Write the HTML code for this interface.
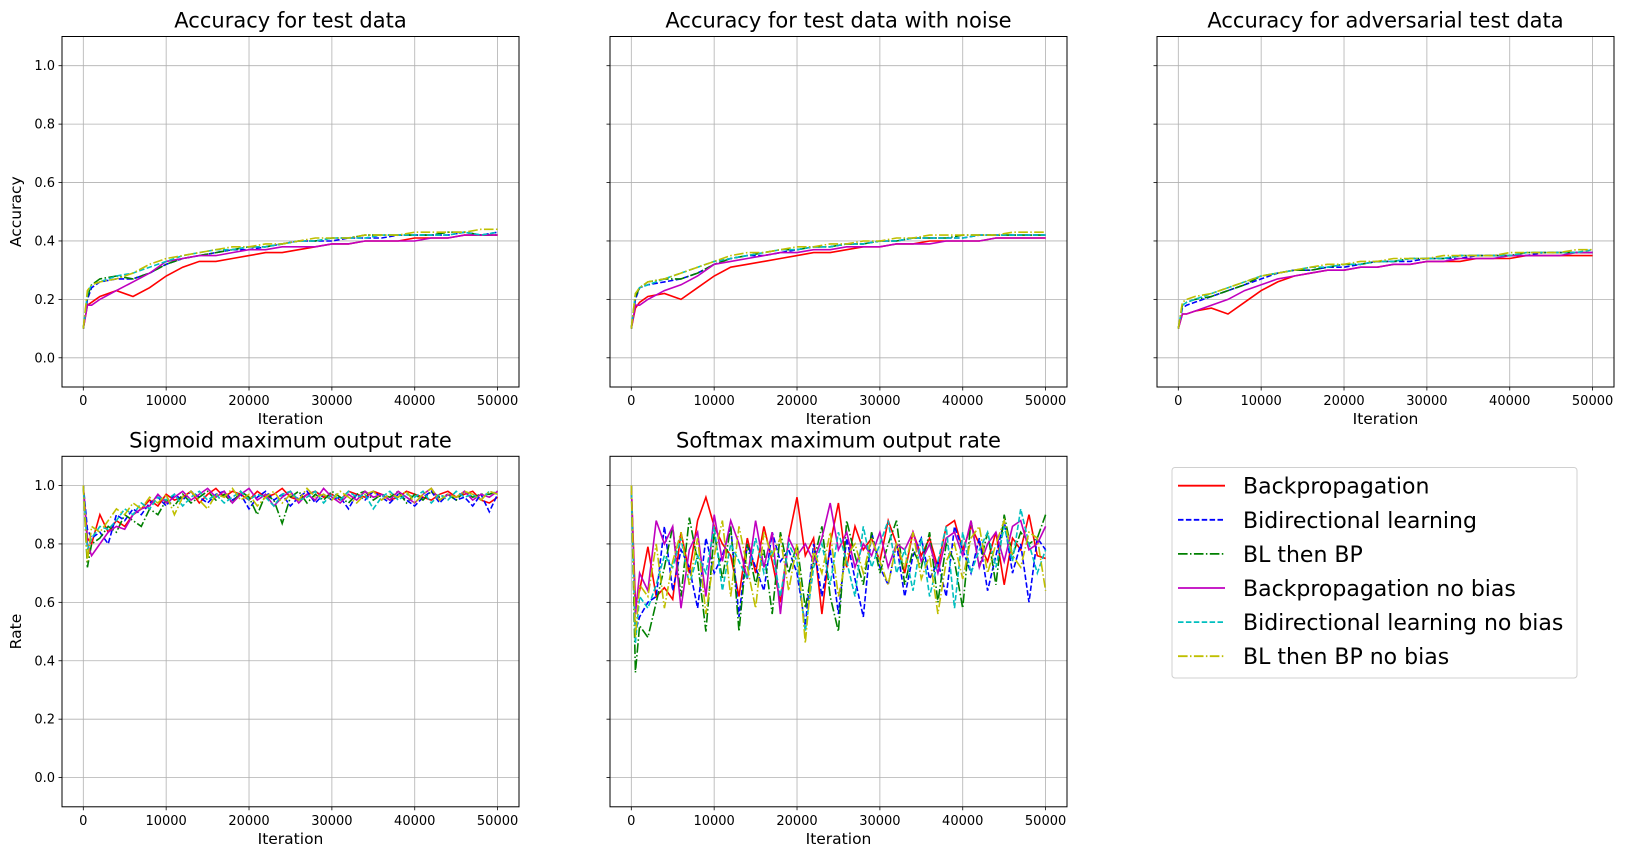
<!DOCTYPE html>
<html><head><meta charset="utf-8"><style>
body{margin:0;background:#fff;}
svg text{font-family:"DejaVu Sans","Liberation Sans",sans-serif;fill:#000;}
</style></head><body>
<svg id="chart" width="1625" height="860" xmlns="http://www.w3.org/2000/svg"></svg>
<script>
const xsTop=[0,500,1000,2000,4000,6000,8000,10000,12000,14000,16000,18000,20000,22000,24000,26000,28000,30000,32000,34000,36000,38000,40000,42000,44000,46000,48000,50000];
const seriesNames=["Backpropagation","Bidirectional learning","BL then BP","Backpropagation no bias","Bidirectional learning no bias","BL then BP no bias"];
const acc1=[
[0.10,0.18,0.19,0.21,0.23,0.21,0.24,0.28,0.31,0.33,0.33,0.34,0.35,0.36,0.36,0.37,0.38,0.39,0.39,0.40,0.40,0.40,0.41,0.41,0.41,0.42,0.42,0.42],
[0.10,0.20,0.24,0.26,0.27,0.27,0.29,0.32,0.34,0.35,0.36,0.37,0.37,0.38,0.39,0.40,0.40,0.40,0.41,0.41,0.41,0.42,0.42,0.42,0.42,0.43,0.42,0.43],
[0.10,0.21,0.25,0.27,0.28,0.27,0.29,0.32,0.34,0.35,0.36,0.37,0.38,0.38,0.39,0.40,0.40,0.41,0.41,0.42,0.42,0.42,0.42,0.42,0.43,0.43,0.42,0.42],
[0.10,0.18,0.18,0.20,0.23,0.26,0.29,0.33,0.34,0.35,0.35,0.36,0.37,0.37,0.38,0.38,0.38,0.39,0.39,0.40,0.40,0.40,0.40,0.41,0.41,0.42,0.42,0.42],
[0.10,0.22,0.25,0.26,0.28,0.29,0.31,0.33,0.35,0.36,0.37,0.37,0.38,0.38,0.39,0.40,0.40,0.41,0.41,0.41,0.42,0.42,0.42,0.42,0.42,0.43,0.42,0.43],
[0.10,0.23,0.25,0.26,0.27,0.29,0.32,0.34,0.35,0.36,0.37,0.38,0.38,0.39,0.39,0.40,0.41,0.41,0.41,0.42,0.42,0.42,0.43,0.43,0.43,0.43,0.44,0.44]];
const acc2=[
[0.10,0.17,0.19,0.21,0.22,0.20,0.24,0.28,0.31,0.32,0.33,0.34,0.35,0.36,0.36,0.37,0.38,0.38,0.39,0.39,0.40,0.40,0.40,0.40,0.41,0.41,0.41,0.41],
[0.10,0.20,0.24,0.25,0.26,0.27,0.29,0.32,0.34,0.35,0.35,0.36,0.37,0.38,0.38,0.39,0.39,0.40,0.40,0.41,0.41,0.41,0.41,0.42,0.42,0.42,0.42,0.42],
[0.10,0.21,0.24,0.26,0.27,0.27,0.29,0.32,0.34,0.35,0.36,0.37,0.37,0.38,0.38,0.39,0.39,0.40,0.40,0.41,0.41,0.41,0.42,0.42,0.42,0.42,0.42,0.42],
[0.10,0.18,0.18,0.20,0.23,0.25,0.28,0.32,0.33,0.34,0.35,0.36,0.36,0.37,0.37,0.38,0.38,0.38,0.39,0.39,0.39,0.40,0.40,0.40,0.41,0.41,0.41,0.41],
[0.10,0.22,0.24,0.25,0.27,0.29,0.31,0.33,0.34,0.35,0.36,0.37,0.37,0.38,0.38,0.39,0.39,0.40,0.40,0.41,0.41,0.41,0.41,0.42,0.42,0.42,0.42,0.42],
[0.10,0.22,0.24,0.26,0.27,0.29,0.31,0.33,0.35,0.36,0.36,0.37,0.38,0.38,0.39,0.39,0.40,0.40,0.41,0.41,0.42,0.42,0.42,0.42,0.42,0.43,0.43,0.43]];
const acc3=[
[0.10,0.15,0.15,0.16,0.17,0.15,0.19,0.23,0.26,0.28,0.29,0.30,0.30,0.31,0.31,0.32,0.32,0.33,0.33,0.33,0.34,0.34,0.34,0.35,0.35,0.35,0.35,0.35],
[0.10,0.17,0.18,0.19,0.21,0.23,0.25,0.27,0.29,0.30,0.30,0.31,0.31,0.32,0.33,0.33,0.33,0.34,0.34,0.34,0.35,0.35,0.35,0.35,0.36,0.36,0.36,0.36],
[0.10,0.18,0.19,0.20,0.21,0.23,0.25,0.28,0.29,0.30,0.30,0.31,0.32,0.32,0.33,0.33,0.34,0.34,0.34,0.35,0.35,0.35,0.35,0.36,0.36,0.36,0.36,0.36],
[0.10,0.15,0.15,0.16,0.18,0.20,0.23,0.25,0.27,0.28,0.29,0.30,0.30,0.31,0.31,0.32,0.32,0.33,0.33,0.34,0.34,0.34,0.35,0.35,0.35,0.35,0.36,0.36],
[0.10,0.18,0.19,0.20,0.22,0.24,0.26,0.28,0.29,0.30,0.31,0.31,0.32,0.32,0.33,0.33,0.34,0.34,0.34,0.35,0.35,0.35,0.35,0.36,0.36,0.36,0.36,0.37],
[0.10,0.19,0.20,0.21,0.22,0.24,0.26,0.28,0.29,0.30,0.31,0.32,0.32,0.33,0.33,0.34,0.34,0.34,0.35,0.35,0.35,0.35,0.36,0.36,0.36,0.36,0.37,0.37]];
const xsBot=[0,500,1000,2000,3000,4000,5000,6000,7000,8000,9000,10000,11000,12000,13000,14000,15000,16000,17000,18000,19000,20000,21000,22000,23000,24000,25000,26000,27000,28000,29000,30000,31000,32000,33000,34000,35000,36000,37000,38000,39000,40000,41000,42000,43000,44000,45000,46000,47000,48000,49000,50000];
const sig=[
[1.00,0.82,0.80,0.90,0.84,0.88,0.86,0.90,0.92,0.95,0.93,0.97,0.95,0.96,0.98,0.94,0.97,0.99,0.96,0.98,0.97,0.95,0.98,0.96,0.97,0.99,0.96,0.95,0.97,0.98,0.96,0.97,0.95,0.98,0.97,0.96,0.98,0.97,0.95,0.96,0.98,0.97,0.96,0.95,0.97,0.98,0.96,0.97,0.98,0.95,0.94,0.96],
[1.00,0.85,0.82,0.84,0.80,0.90,0.88,0.92,0.90,0.94,0.96,0.93,0.97,0.95,0.98,0.96,0.94,0.97,0.98,0.95,0.97,0.92,0.96,0.98,0.95,0.97,0.93,0.96,0.98,0.94,0.97,0.95,0.96,0.92,0.97,0.95,0.98,0.96,0.94,0.97,0.95,0.93,0.96,0.98,0.94,0.97,0.95,0.96,0.93,0.97,0.91,0.97],
[1.00,0.72,0.80,0.82,0.86,0.84,0.90,0.88,0.86,0.92,0.90,0.95,0.93,0.97,0.94,0.96,0.98,0.95,0.97,0.94,0.98,0.96,0.90,0.97,0.95,0.87,0.96,0.98,0.94,0.97,0.95,0.98,0.96,0.94,0.97,0.98,0.95,0.97,0.96,0.98,0.94,0.97,0.95,0.98,0.96,0.97,0.95,0.98,0.96,0.97,0.97,0.98],
[1.00,0.80,0.76,0.80,0.84,0.86,0.85,0.90,0.92,0.93,0.97,0.94,0.96,0.98,0.95,0.97,0.99,0.96,0.98,0.94,0.97,0.99,0.95,0.97,0.93,0.96,0.98,0.94,0.97,0.95,0.99,0.96,0.94,0.97,0.95,0.98,0.96,0.97,0.95,0.98,0.96,0.94,0.97,0.99,0.95,0.97,0.96,0.98,0.95,0.97,0.96,0.98],
[1.00,0.78,0.82,0.86,0.85,0.88,0.92,0.90,0.94,0.92,0.96,0.95,0.97,0.93,0.96,0.98,0.95,0.97,0.94,0.96,0.98,0.95,0.97,0.96,0.93,0.97,0.98,0.95,0.96,0.98,0.94,0.97,0.95,0.98,0.96,0.97,0.92,0.96,0.98,0.95,0.97,0.96,0.98,0.94,0.97,0.95,0.98,0.96,0.97,0.95,0.98,0.97],
[1.00,0.74,0.86,0.84,0.88,0.92,0.90,0.94,0.92,0.96,0.94,0.97,0.90,0.96,0.98,0.95,0.92,0.97,0.96,0.99,0.95,0.97,0.93,0.96,0.98,0.94,0.97,0.95,0.99,0.96,0.97,0.95,0.98,0.96,0.94,0.97,0.98,0.95,0.97,0.96,0.98,0.94,0.97,0.99,0.95,0.97,0.96,0.98,0.97,0.95,0.98,0.97]];
const soft=[
[1.00,0.60,0.64,0.79,0.62,0.65,0.61,0.84,0.70,0.88,0.96,0.86,0.80,0.76,0.62,0.82,0.70,0.86,0.74,0.60,0.82,0.96,0.76,0.82,0.56,0.80,0.94,0.72,0.86,0.78,0.82,0.74,0.88,0.80,0.70,0.84,0.76,0.82,0.72,0.86,0.88,0.78,0.86,0.80,0.74,0.84,0.66,0.82,0.78,0.90,0.76,0.75],
[1.00,0.50,0.55,0.60,0.62,0.86,0.64,0.78,0.72,0.58,0.82,0.70,0.76,0.86,0.55,0.80,0.72,0.64,0.84,0.74,0.78,0.70,0.52,0.80,0.62,0.78,0.56,0.82,0.68,0.55,0.84,0.72,0.66,0.80,0.62,0.76,0.82,0.68,0.74,0.62,0.86,0.78,0.70,0.82,0.64,0.76,0.88,0.70,0.80,0.60,0.82,0.78],
[1.00,0.36,0.52,0.48,0.60,0.72,0.86,0.62,0.89,0.74,0.50,0.84,0.68,0.86,0.50,0.80,0.66,0.78,0.56,0.84,0.70,0.80,0.58,0.74,0.86,0.62,0.50,0.88,0.76,0.66,0.84,0.70,0.80,0.88,0.66,0.78,0.72,0.84,0.60,0.80,0.74,0.58,0.88,0.72,0.84,0.66,0.90,0.76,0.84,0.80,0.82,0.90],
[1.00,0.56,0.70,0.64,0.88,0.80,0.86,0.58,0.78,0.84,0.62,0.90,0.74,0.88,0.80,0.68,0.88,0.72,0.84,0.56,0.82,0.76,0.80,0.74,0.82,0.94,0.78,0.84,0.72,0.80,0.76,0.84,0.72,0.80,0.78,0.84,0.74,0.80,0.70,0.82,0.84,0.76,0.88,0.72,0.80,0.84,0.74,0.86,0.88,0.78,0.80,0.86],
[1.00,0.46,0.62,0.58,0.66,0.76,0.72,0.82,0.66,0.76,0.70,0.86,0.64,0.80,0.74,0.68,0.82,0.70,0.78,0.62,0.80,0.74,0.50,0.72,0.80,0.66,0.84,0.74,0.62,0.86,0.72,0.80,0.88,0.70,0.78,0.64,0.82,0.62,0.74,0.86,0.58,0.84,0.70,0.78,0.84,0.72,0.86,0.74,0.92,0.80,0.70,0.78],
[1.00,0.48,0.66,0.62,0.80,0.58,0.74,0.84,0.66,0.82,0.56,0.76,0.88,0.62,0.86,0.72,0.58,0.84,0.76,0.82,0.64,0.80,0.46,0.78,0.70,0.84,0.62,0.76,0.80,0.70,0.82,0.74,0.66,0.80,0.72,0.84,0.68,0.76,0.56,0.74,0.80,0.68,0.82,0.86,0.70,0.80,0.88,0.76,0.72,0.84,0.82,0.64]];
const yTicks=[0.0,0.2,0.4,0.6,0.8,1.0];
const xTicks=[0,10000,20000,30000,40000,50000];
const colors=["#ff0000","#0000ff","#008000","#bf00bf","#00bfbf","#bfbf00"];
const dashes=["","5.5,2.4","9.6,2.4,1.5,2.4","","5.5,2.4","9.6,2.4,1.5,2.4"];
const NS="http://www.w3.org/2000/svg";
const svg=document.getElementById('chart');
function mk(tag,attrs,parent){const e=document.createElementNS(NS,tag);for(const k in attrs)e.setAttribute(k,attrs[k]);(parent||svg).appendChild(e);return e;}
const panels=[
{title:"Accuracy for test data",left:62,top:36.5,data:acc1,xs:xsTop,yl:"Accuracy",name:"test-accuracy-panel",ylab:true},
{title:"Accuracy for test data with noise",left:610,top:36.5,data:acc2,xs:xsTop,name:"noise-accuracy-panel",ylab:false},
{title:"Accuracy for adversarial test data",left:1157,top:36.5,data:acc3,xs:xsTop,name:"adversarial-accuracy-panel",ylab:false},
{title:"Sigmoid maximum output rate",left:62,top:456.3,data:sig,xs:xsBot,yl:"Rate",name:"sigmoid-rate-panel",ylab:true},
{title:"Softmax maximum output rate",left:610,top:456.3,data:soft,xs:xsBot,name:"softmax-rate-panel",ylab:false}];
const W=457,H=350.5;
panels.forEach(p=>{
  const g=mk('g',{});
  
  
  const xS=v=>p.left+21.3+v*(414.3/50000);
  const yS=v=>p.top+H-(v+0.1)/1.2*H;
  xTicks.forEach(t=>{
    mk('line',{x1:xS(t),x2:xS(t),y1:p.top,y2:p.top+H,stroke:'#b0b0b0','stroke-width':0.8},g);
    mk('line',{x1:xS(t),x2:xS(t),y1:p.top+H,y2:p.top+H+3.5,stroke:'#000','stroke-width':0.8},g);
    const tx=mk('text',{x:xS(t),y:p.top+H+18,'text-anchor':'middle','font-size':13},g);
    tx.textContent=t;
    
    
  });
  yTicks.forEach(t=>{
    mk('line',{x1:p.left,x2:p.left+W,y1:yS(t),y2:yS(t),stroke:'#b0b0b0','stroke-width':0.8},g);
    mk('line',{x1:p.left-3.5,x2:p.left,y1:yS(t),y2:yS(t),stroke:'#000','stroke-width':0.8},g);
    if(p.ylab){const ty=mk('text',{x:p.left-7,y:yS(t)+4.5,'text-anchor':'end','font-size':13},g);
    ty.textContent=t.toFixed(1);
    
    }
  });
  p.data.forEach((s,i)=>{
    const d=s.map((v,j)=>(j?'L':'M')+xS(p.xs[j]).toFixed(1)+','+yS(v).toFixed(1)).join(' ');
    const path=mk('path',{d:d,fill:'none',stroke:colors[i],'stroke-width':1.6,'stroke-dasharray':dashes[i]},g);
    
    
  });
  mk('rect',{x:p.left,y:p.top,width:W,height:H,fill:'none',stroke:'#000','stroke-width':1},g);
  const tt=mk('text',{x:p.left+W/2,y:p.top-9,'text-anchor':'middle','font-size':21},g);
  tt.textContent=p.title;
  
  
  const xl=mk('text',{x:p.left+W/2,y:p.top+H+37,'text-anchor':'middle','font-size':15.5},g);
  xl.textContent="Iteration";
  
  
  if(p.yl){const yl=mk('text',{x:0,y:0,'text-anchor':'middle','font-size':15.5,transform:`translate(21,${p.top+H/2}) rotate(-90)`},g);
  yl.textContent=p.yl;
  
  }
});
const lg=mk('g',{});


mk('rect',{x:1172,y:467.5,width:405,height:210.5,rx:3,fill:'#fff',stroke:'#d0d0d0','stroke-width':1},lg);
seriesNames.forEach((n,i)=>{
  const y=485.7+i*34.1;
  mk('line',{x1:1178,x2:1225,y1:y,y2:y,stroke:colors[i],'stroke-width':1.8,'stroke-dasharray':dashes[i]},lg);
  const t=mk('text',{x:1243,y:y+8,'font-size':22},lg);
  t.textContent=n;
  
  
});
</script>
</body></html>
